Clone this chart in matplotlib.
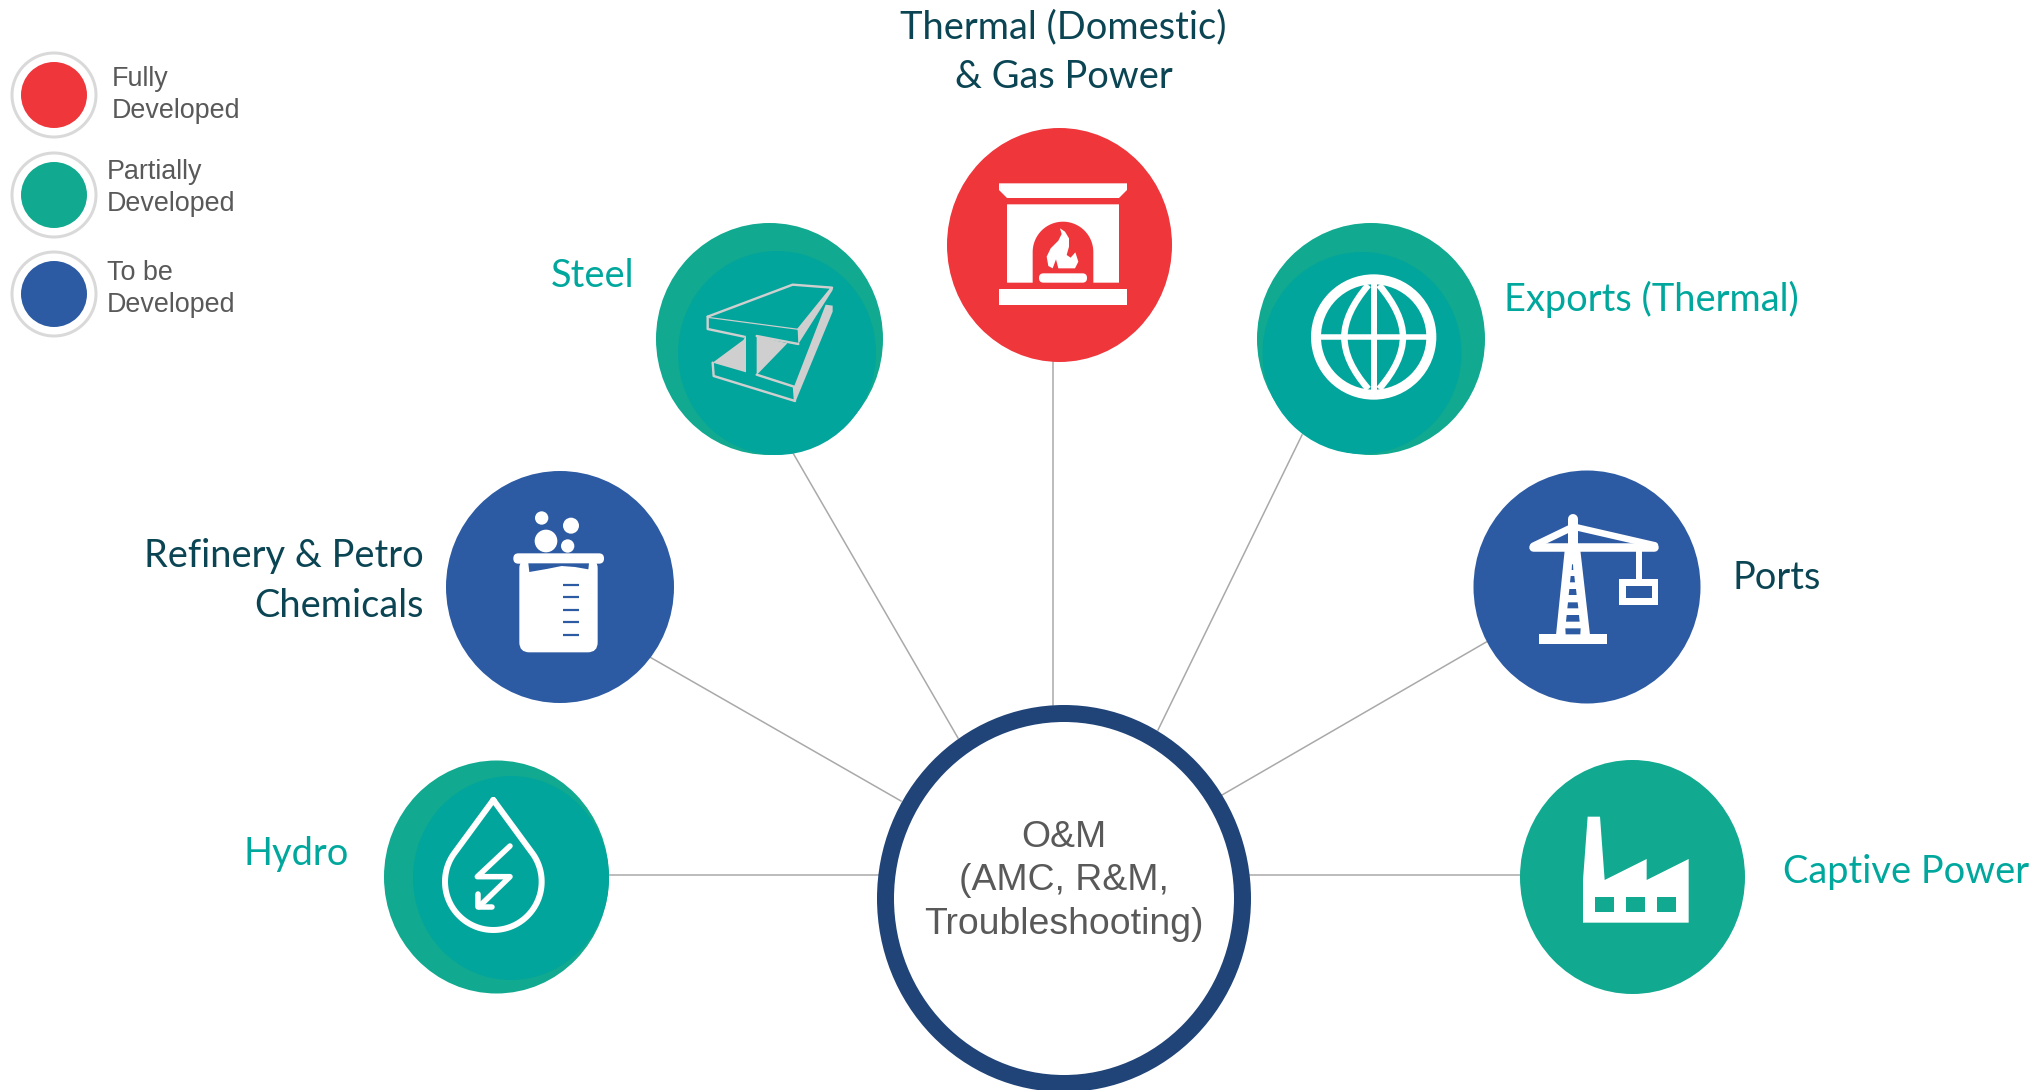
import numpy as np
import matplotlib
matplotlib.use("Agg")
import matplotlib.pyplot as plt
from matplotlib.patches import Ellipse, Polygon, Rectangle, FancyBboxPatch, PathPatch
from matplotlib.path import Path

# ---- content ----
legend_labels = ["Fully\nDeveloped", "Partially\nDeveloped", "To be\nDeveloped"]
sector_labels = ["Thermal (Domestic)\n& Gas Power", "Steel", "Exports (Thermal)",
                 "Refinery & Petro\nChemicals", "Ports", "Hydro", "Captive Power"]
sector_status = ["full", "partial", "partial", "todo", "todo", "partial", "partial"]
hub_label = "O&M\n(AMC, R&M,\nTroubleshooting)"

# ---- styles ----
RED, GREEN, TEAL, BLUE = "#EF363B", "#11A98F", "#01A59C", "#2D5BA3"
NAVY, LINE, RING, GREY = "#204478", "#A9A9A9", "#D9D9D9", "#595959"
DARK, TEXTTEAL, STEEL = "#0B4554", "#00A79D", "#CFCFCF"
status_color = {"full": RED, "partial": GREEN, "todo": BLUE}
label_color = [DARK, TEXTTEAL, TEXTTEAL, DARK, DARK, TEXTTEAL, TEXTTEAL]

# ---- layout (pixels) ----
circle_xy = [(1059.5, 245), (769.5, 339), (1371, 339), (560, 587), (1587, 587), (496.5, 877), (1632.5, 877)]
circle_rr = [(112.5, 117), (113.5, 116), (114, 116), (114, 116), (113.5, 116.5), (112.5, 116.5), (112.5, 117)]
inner_xy = {1: (777, 353), 2: (1362, 353), 5: (511, 878)}
inner_rr = {1: (99, 102), 2: (99.5, 101), 5: (98, 102)}
label_xy = [(1063.5, 52), (634, 276), (1504, 299), (424, 581), (1733, 578), (349, 854), (1783, 872)]
label_ha = ["center", "right", "left", "right", "left", "right", "left"]
spoke_from = [(1053, 362), (793, 453), (1302, 435), (648, 656), (1488, 641), (609, 875), (1520, 875)]
spoke_to = [(1053, 705), (958, 738), (1158, 730), (901, 801), (1222, 795), (880, 875), (1250, 875)]
legend_y = [95, 195, 294]
legend_ty = [95, 188, 289]
legend_tx = [112, 107, 107]
LBL_PT = 27.4

fig = plt.figure(figsize=(20.36, 10.90), dpi=100, facecolor="white")
ax = fig.add_axes([0, 0, 1, 1])
ax.set_xlim(0, 2036)
ax.set_ylim(1090, 0)
ax.axis("off")

PX = 0.72  # pixels to points


def Z(x0, y0):
    return lambda pts: [(x0 + a / 3, y0 + b / 3) for a, b in pts]


def poly(pts, fc, z=5):
    ax.add_patch(Polygon(pts, closed=True, fc=fc, ec="none", zorder=z))


def stroke(pts, c, w, z=5, cap="round", closed=False):
    xs, ys = zip(*(list(pts) + ([pts[0]] if closed else [])))
    ax.plot(xs, ys, color=c, lw=w * PX, solid_capstyle=cap, solid_joinstyle="round", zorder=z)


def box(x1, y1, x2, y2, fc, z=5, r=0):
    if r:
        ax.add_patch(FancyBboxPatch((x1 + r, y1 + r), x2 - x1 - 2 * r, y2 - y1 - 2 * r,
                                    boxstyle=f"round,pad={r},rounding_size={r}", fc=fc, ec="none", zorder=z))
    else:
        ax.add_patch(Rectangle((x1, y1), x2 - x1, y2 - y1, fc=fc, ec="none", zorder=z))


def disc(cx, cy, rx, ry, fc, z=5):
    ax.add_patch(Ellipse((cx, cy), 2 * rx, 2 * ry, fc=fc, ec="none", zorder=z))


# ---- spokes and hub ----
for a, b in zip(spoke_from, spoke_to):
    ax.plot([a[0], b[0]], [a[1], b[1]], color=LINE, lw=1.1, zorder=1)
ax.add_patch(Ellipse((1064, 898.5), 2 * 178.5, 2 * 185, fc="white", ec=NAVY, lw=17 * PX, zorder=2))
ax.text(1064, 881, hub_label, ha="center", va="center", color=GREY, fontsize=26.9,
        family="Liberation Sans", linespacing=1.31, zorder=3)

# ---- sector circles and labels ----
for i, (lab, st) in enumerate(zip(sector_labels, sector_status)):
    disc(*circle_xy[i], *circle_rr[i], status_color[st], z=3)
    if i in inner_xy:
        disc(*inner_xy[i], *inner_rr[i], TEAL, z=4)
    ax.text(*label_xy[i], lab, ha=label_ha[i], va="center", ma=label_ha[i], color=label_color[i],
            fontsize=LBL_PT, family="Lato", linespacing=1.48, zorder=6)

# ---- fireplace ----
z = Z(930, 120)
poly(z([(207, 190), (591, 190), (591, 210), (567, 234), (231, 234), (207, 210)]), "white")
t = np.linspace(np.pi, 0, 40)
arch = [(399 + 91 * np.cos(a), 396 - 91 * np.sin(a)) for a in t]
poly(z([(231, 253), (567, 253), (567, 488), (490, 488)] + arch[::-1] + [(308, 488), (231, 488)]), "white")
(lx, ly), (lx2, ly2) = z([(327, 460), (471, 488)])
box(lx, ly, lx2, ly2, "white", r=4.5)
(lx, ly), (lx2, ly2) = z([(207, 508), (591, 555)])
box(lx, ly, lx2, ly2, "white")
poly(z([(390, 325), (405, 335), (417, 355), (417, 380), (410, 405), (422, 413), (436, 397), (445, 425),
        (435, 445), (385, 445), (378, 418), (368, 445), (355, 438), (350, 410), (362, 385), (385, 362), (395, 342)]),
     "white")

# ---- steel beam ----
z = Z(640, 210)
stroke(z([(203, 320), (458, 224), (576, 233), (475, 358)]), STEEL, 2.4)
stroke(z([(203, 322), (475, 358)]), STEEL, 1.2)
stroke(z([(203, 320), (203, 357), (312, 380)]), STEEL, 2.4)
stroke(z([(350, 378), (475, 402)]), STEEL, 2.4)
poly(z([(473, 358), (578, 232), (578, 240), (475, 402)]), STEEL)
poly(z([(318, 375), (310, 390), (218, 458), (318, 487)]), STEEL)
poly(z([(350, 378), (442, 400), (350, 495)]), STEEL)
stroke(z([(218, 458), (221, 498), (465, 573), (462, 530), (350, 494)]), STEEL, 2.4)
poly(z([(462, 530), (557, 284), (578, 287), (578, 305), (466, 576)]), STEEL)

# ---- globe ----
z = Z(1240, 220)
(gx, gy), = z([(401, 351)])
disc(gx, gy, 188 / 3, 188 / 3, "white")
disc(gx, gy, 158 / 3, 158 / 3, TEAL, z=5.1)
stroke(z([(401, 190), (401, 512)]), "white", 6, z=5.2, cap="butt")
stroke(z([(240, 351), (562, 351)]), "white", 5.5, z=5.2, cap="butt")
for s in (-1, 1):
    pts = z([(401 + s * 16, 195), (401 + s * 88, 280), (401 + s * 88, 351), (401 + s * 88, 425), (401 + s * 16, 507)])
    ax.add_patch(PathPatch(Path(pts, [Path.MOVETO, Path.CURVE3, Path.CURVE3, Path.CURVE3, Path.CURVE3]),
                           fc="none", ec="white", lw=6.5 * PX, zorder=5.2))

# ---- beaker ----
z = Z(440, 470)
for bx, by, br in [(305, 144, 20), (393, 167, 24), (318, 213, 34), (383, 228, 20)]:
    (cx, cy), = z([(bx, by)])
    disc(cx, cy, br / 3, br / 3, "white")
(a1, b1), (a2, b2) = z([(238, 265), (473, 547)])
box(a1, b1, a2, b2, "white", r=10)
(a1, b1), (a2, b2) = z([(220, 250), (492, 281)])
box(a1, b1, a2, b2, "white", r=5)
poly(z([(265, 280), (447, 280), (445, 298), (405, 291), (365, 288), (320, 297), (268, 306)]), BLUE, z=5.1)
for ty in [344, 381, 419, 456, 494]:
    stroke(z([(370, ty), (416, ty)]), BLUE, 2.2, z=5.1, cap="butt")

# ---- crane ----
z = Z(1470, 470)
(a1, b1), (a2, b2) = z([(207, 492), (410, 521)])
box(a1, b1, a2, b2, "white")
poly(z([(258, 495), (285, 232), (330, 232), (360, 495)]), "white")
for y1, y2, xa, xb, xc, xd in [(475, 493, 286, 332, 331, 287), (435, 455, 290, 327, 329, 288),
                               (397, 415, 294, 323, 325, 292), (357, 375, 298, 318, 320, 296),
                               (318, 337, 302, 313, 315, 300), (283, 300, 306, 309, 310, 305)]:
    poly(z([(xa, y1), (xb, y1), (xc, y2), (xd, y2)]), BLUE, z=5.1)
stroke(z([(308, 148), (308, 240)]), "white", 10)
stroke(z([(190, 232), (552, 232)]), "white", 8.5)
stroke(z([(190, 228), (300, 175)]), "white", 7)
stroke(z([(320, 172), (555, 226)]), "white", 6.5)
(a1, b1), (a2, b2) = z([(497, 235), (517, 335)])
box(a1, b1, a2, b2, "white")
(a1, b1), (a2, b2) = z([(448, 327), (565, 405)])
box(a1, b1, a2, b2, "white")
(a1, b1), (a2, b2) = z([(468, 347), (545, 385)])
box(a1, b1, a2, b2, BLUE, z=5.1)

# ---- drop ----
z = Z(380, 750)
arc = [(340 + 145 * np.cos(np.radians(a)), 395 - 145 * np.sin(np.radians(a))) for a in np.linspace(145, 395, 80)]
stroke(z([(340, 150)] + arc + [(340, 150)]), "white", 6)
stroke(z([(390, 288), (292, 380), (390, 380), (297, 470)]), "white", 5.5)
stroke(z([(295, 432), (295, 470), (336, 470)]), "white", 5.5)

# ---- factory ----
z = Z(1520, 760)
poly(z([(189, 488), (189, 360), (203, 170), (240, 170), (254, 360), (380, 297), (380, 360), (506, 297), (506, 488)]),
     "white")
for wx in [226, 319, 412]:
    (a1, b1), (a2, b2) = z([(wx, 412), (wx + 57, 455)])
    box(a1, b1, a2, b2, GREEN, z=5.1)

# ---- legend ----
for y, ty, tx, lab, c in zip(legend_y, legend_ty, legend_tx, legend_labels, [RED, GREEN, BLUE]):
    ax.add_patch(Ellipse((54, y), 84, 84, fc="white", ec=RING, lw=3 * PX, zorder=2))
    disc(54, y, 33, 33, c, z=3)
    ax.text(tx, ty, lab, ha="left", va="center", color=GREY, fontsize=19.4,
            family="Liberation Sans", linespacing=1.32, zorder=4)

fig.savefig("out.png", dpi=100, facecolor="white")
